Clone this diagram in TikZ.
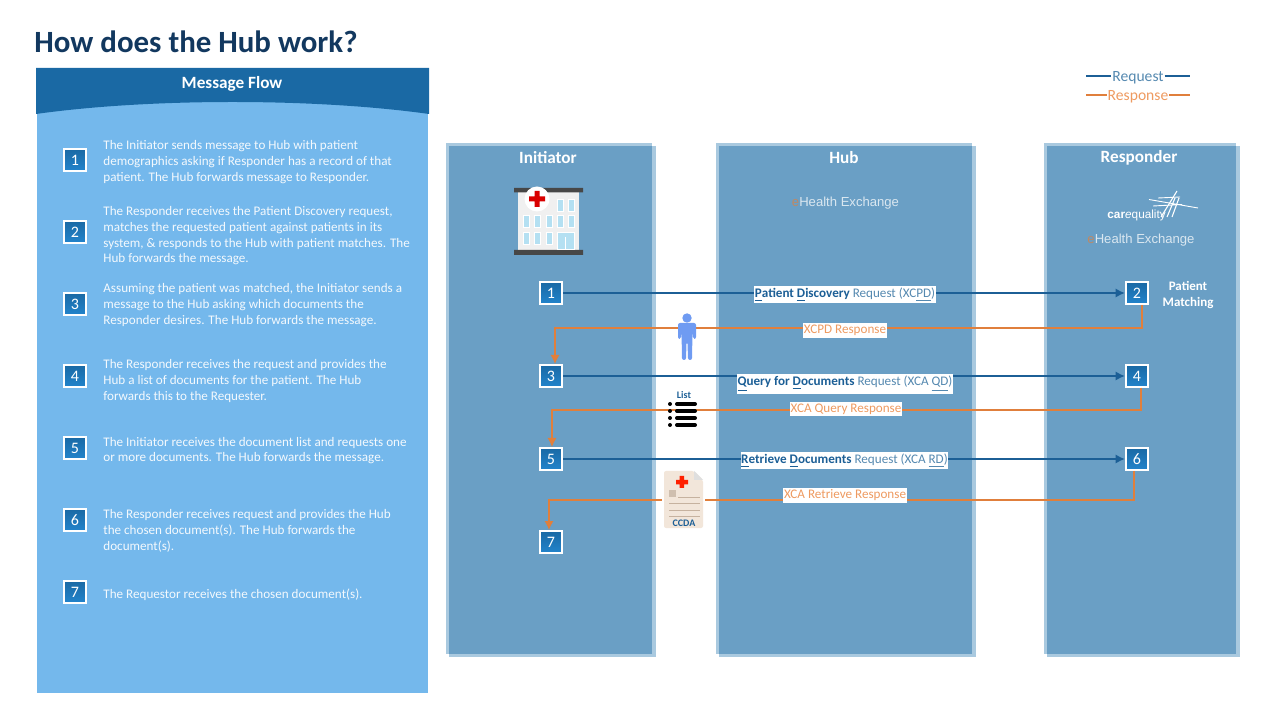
\documentclass[tikz,border=0pt]{standalone}
\usepackage{fontspec}
\setmainfont{Carlito}
\newfontfamily\logofont{Liberation Sans}
\usetikzlibrary{arrows.meta}
\definecolor{hubdark}{HTML}{1A69A4}
\definecolor{hublight}{HTML}{2284CC}
\definecolor{panelblue}{HTML}{74B8EC}
\definecolor{colblue}{HTML}{6A9FC5}
\definecolor{coledge}{HTML}{A9C9DF}
\definecolor{reqblue}{HTML}{1C5F96}
\definecolor{reqtext}{HTML}{5589B0}
\definecolor{respline}{HTML}{E07F3C}
\definecolor{resptext}{HTML}{EE9A60}
\definecolor{titleblue}{HTML}{12385F}
\definecolor{winblue}{HTML}{B4E0F2}
\definecolor{personblue}{HTML}{6F9BF2}
\tikzset{
    numbox/.style={draw=white, line width=1.1pt, minimum size=11.2pt, inner sep=0pt,
        top color=hubdark, bottom color=hublight, text=white, font=\fontsize{8}{8}\selectfont},
    flowtext/.style={anchor=west, align=left, inner sep=0pt, text=white!92!panelblue,
        font=\fontsize{6.56}{7.85}\selectfont},
    colhead/.style={text=white, inner sep=0pt, font=\fontsize{8.6}{8}\selectfont\bfseries},
    reqline/.style={draw=reqblue, line width=0.6pt},
    respline/.style={draw=respline, line width=0.6pt},
    reqlabel/.style={fill=white, text=reqtext, inner xsep=0.3pt, inner ysep=1pt, font=\fontsize{6.56}{8}\selectfont},
    resplabel/.style={fill=white, text=resptext, inner xsep=0.3pt, inner ysep=1pt, font=\fontsize{6.56}{8}\selectfont},
    logotext/.style={text=white!75!colblue, inner sep=0pt, font=\fontsize{6.55}{8}\selectfont\logofont},
    window/.style={fill=winblue, draw=white, line width=0.5pt}
}
\begin{document}
\begin{tikzpicture}[x=0.5pt, y=-0.5pt, >={Latex[length=4.5pt,width=4.5pt]}]
    \useasboundingbox (0, 0) rectangle (1273, 715);
    \node[anchor=west, inner sep=0pt, text=titleblue, font=\fontsize{15.45}{16}\selectfont\bfseries] (title) at (34, 42) {How does the Hub work?};

    % left panel
    \fill[panelblue] (37, 100) rectangle (428, 693);
    \fill[hubdark] (36, 68) -- (429, 68) -- (429, 114) .. controls (315, 98) and (150, 98) .. (36, 114) -- cycle;
    \node[colhead] (flowhead) at (232, 83.5) {Message Flow};
    \foreach \i/\y in {1/160, 2/232, 3/304, 4/376, 5/448, 6/520, 7/592}
    {
        \node[numbox] (s\i) at (75, \y) {\i};
    }
    \node[flowtext] (t1) at (103, 162) {The Initiator sends message to Hub with patient\\demographics asking if Responder has a record of that\\patient.  The Hub forwards message to Responder.};
    \node[flowtext] (t2) at (103, 236) {The Responder receives the Patient Discovery request,\\matches the requested patient against patients in its\\system, \& responds to the Hub with patient matches. The\\Hub forwards the message.};
    \node[flowtext] (t3) at (103, 305) {Assuming the patient was matched, the Initiator sends a\\message to the Hub asking which documents the\\Responder desires. The Hub forwards the message.};
    \node[flowtext] (t4) at (103, 381) {The Responder receives the request and provides the\\Hub a list of documents for the patient. The Hub\\forwards this to the Requester.};
    \node[flowtext] (t5) at (103, 450.5) {The Initiator receives the document list and requests one\\or more documents. The Hub forwards the message.};
    \node[flowtext] (t6) at (103, 531) {The Responder receives request and provides the Hub\\the chosen document(s).  The Hub forwards the\\document(s).};
    \node[flowtext] (t7) at (103, 595) {The Requestor receives the chosen document(s).};

    % legend
    \node[reqlabel, fill=none, font=\fontsize{7.8}{8}\selectfont] (legreq) at (1138, 78) {Request};
    \node[resplabel, fill=none, font=\fontsize{7.8}{8}\selectfont] (legresp) at (1138, 97) {Response};
    \coordinate (reqa) at (1086, 76);
    \coordinate (reqb) at (1190, 76);
    \coordinate (respa) at (1086, 95);
    \coordinate (respb) at (1190, 95);
    \draw[reqline] (reqa) -- (legreq.west |- reqa) (legreq.east |- reqb) -- (reqb);
    \draw[respline] (respa) -- (legresp.west |- respa) (legresp.east |- respb) -- (respb);

    % columns
    \foreach \a/\b in {446/652, 716/972, 1044/1236}
    {
        \fill[coledge] (\a, 143) rectangle (\b, 654);
        \fill[coledge] (\a+3, 146) rectangle (\b+3.5, 657);
        \fill[colblue] (\a+3, 146) rectangle (\b, 654);
    }
    \node[colhead] (inithead) at (548, 157.5) {Initiator};
    \node[colhead] (hubhead) at (844, 157.5) {Hub};
    \node[colhead] (resphead) at (1139, 157.5) {Responder};
    \node[colhead, align=center, font=\fontsize{6.5}{8}\selectfont\bfseries] (matching) at (1188, 295) {Patient\\Matching};

    % logos
    \node[logotext] (hublogo) at (845.5, 203) {\textcolor{respline!70!colblue}{e}Health Exchange};
    \node[logotext] (resplogo) at (1141, 240) {\textcolor{respline!70!colblue}{e}Health Exchange};
    \node[logotext, anchor=west, text=white, font=\fontsize{5.9}{8}\selectfont\logofont] (carelogo) at (1107, 215.5) {\textbf{car}\textit{e}quality};
    \draw[white, line width=0.45pt] (1149, 199.5) -- (1198, 208) (1158, 198) -- (1180, 197) (1153, 206) -- (1182, 204.5);
    \draw[white, line width=0.55pt] (1177, 191) -- (1161, 217) (1175, 198) -- (1167, 217) (1179, 198) -- (1172, 217);

    % hospital
    \fill[gray!12] (518, 192) rectangle (579, 250);
    \fill[black!72] (514, 188) rectangle (583, 192.5) (514, 250) rectangle (583, 255);
    \foreach \x in {526, 537, 549, 560, 571}
    {
        \filldraw[window] (\x-3, 216) rectangle (\x+3, 228);
    }
    \foreach \x in {526, 537, 549}
    {
        \filldraw[window] (\x-3, 233) rectangle (\x+3, 245);
    }
    \foreach \x in {560, 571}
    {
        \filldraw[window] (\x-3, 200) rectangle (\x+3, 212);
    }
    \filldraw[window] (557, 233) rectangle (574, 250);
    \draw[white, line width=0.5pt] (565.5, 237) -- (565.5, 250);
    \fill[white] (537, 199) circle [radius=12.5];
    \fill[red!85!black] (534.5, 191) rectangle (539.5, 207) (529, 196.5) rectangle (545, 201.5);

    % connectors
    \foreach \i/\x/\y in {1/551/293, 2/1137/293, 3/551/376, 4/1137/376, 5/551/459, 6/1137/459, 7/551/542}
    {
        \node[numbox] (b\i) at (\x, \y) {\i};
    }
    \coordinate (turn2) at (1142, 305);
    \coordinate (turn3) at (555, 328);
    \coordinate (top3) at (555, 364);
    \coordinate (turn4) at (1141, 388);
    \coordinate (turn5) at (552, 410);
    \coordinate (top5) at (552, 447);
    \coordinate (turn6) at (1134, 471);
    \coordinate (turn7) at (549, 500);
    \coordinate (top7) at (549, 530);
    \draw[reqline, ->] (b1) -- (b2);
    \draw[reqline, ->] (b3) -- (b4);
    \draw[reqline, ->] (b5) -- (b6);
    \draw[respline, ->] (turn2) |- (turn3) -- (top3);
    \draw[respline, ->] (turn4) |- (turn5) -- (top5);
    \draw[respline, ->] (turn6) |- (turn7) -- (top7);
    \node[reqlabel] (lab1) at (845, 294.5) {\textcolor{reqblue}{\textbf{\underline{P}atient \underline{D}iscovery}} Request (XC\underline{PD})};
    \node[resplabel] (lab2) at (845, 330.5) {XCPD Response};
    \node[reqlabel] (lab3) at (845, 384) {\textcolor{reqblue}{\textbf{\underline{Q}uery for \underline{D}ocuments}} Request (XCA \underline{QD})};
    \node[resplabel] (lab4) at (846, 409) {XCA Query Response};
    \node[reqlabel] (lab5) at (844.5, 460.5) {\textcolor{reqblue}{\textbf{\underline{R}etrieve \underline{D}ocuments}} Request (XCA \underline{RD})};
    \node[resplabel] (lab6) at (845, 495.5) {XCA Retrieve Response};

    % person
    \fill[personblue] (687, 318) circle [radius=4.7];
    \fill[personblue, rounded corners=1pt] (678, 323) -- (696, 323) -- (696, 339) -- (693, 339) -- (692.5, 330) -- (692, 360) -- (688, 360) -- (687.5, 342) -- (686.5, 342) -- (686, 360) -- (682, 360) -- (681.5, 330) -- (681, 339) -- (678, 339) -- cycle;

    % list
    \node[inner sep=0pt, text=reqblue, font=\fontsize{5}{6}\selectfont\bfseries] (listhead) at (684, 395) {List};
    \foreach \y in {404, 411, 418, 425}
    {
        \fill[black] (670, \y) circle [radius=2];
        \draw[black, line width=2pt, line cap=round] (677, \y) -- (695, \y);
    }

    % document
    \fill[white] (662, 470) rectangle (705, 530);
    \fill[orange!10!white!95!black, rounded corners=1pt] (664, 471) -- (694, 471) -- (703, 480) -- (703, 528) -- (664, 528) -- cycle;
    \fill[gray!25] (694, 471) -- (703, 480) -- (694, 480) -- cycle;
    \fill[red!75!orange] (679.5, 476) rectangle (684, 488) (676, 480) rectangle (688, 484.5);
    \fill[orange!25!gray!50] (669, 490) rectangle (676, 497);
    \draw[orange!25!gray!60, line width=0.4pt] (678, 497) -- (700, 497) (669, 503) -- (700, 503) (669, 510) -- (700, 510) (669, 516) -- (700, 516);
    \node[inner sep=0pt, text=reqblue, font=\fontsize{5}{6}\selectfont\bfseries] (ccda) at (684, 523) {CCDA};
\end{tikzpicture}
\end{document}
